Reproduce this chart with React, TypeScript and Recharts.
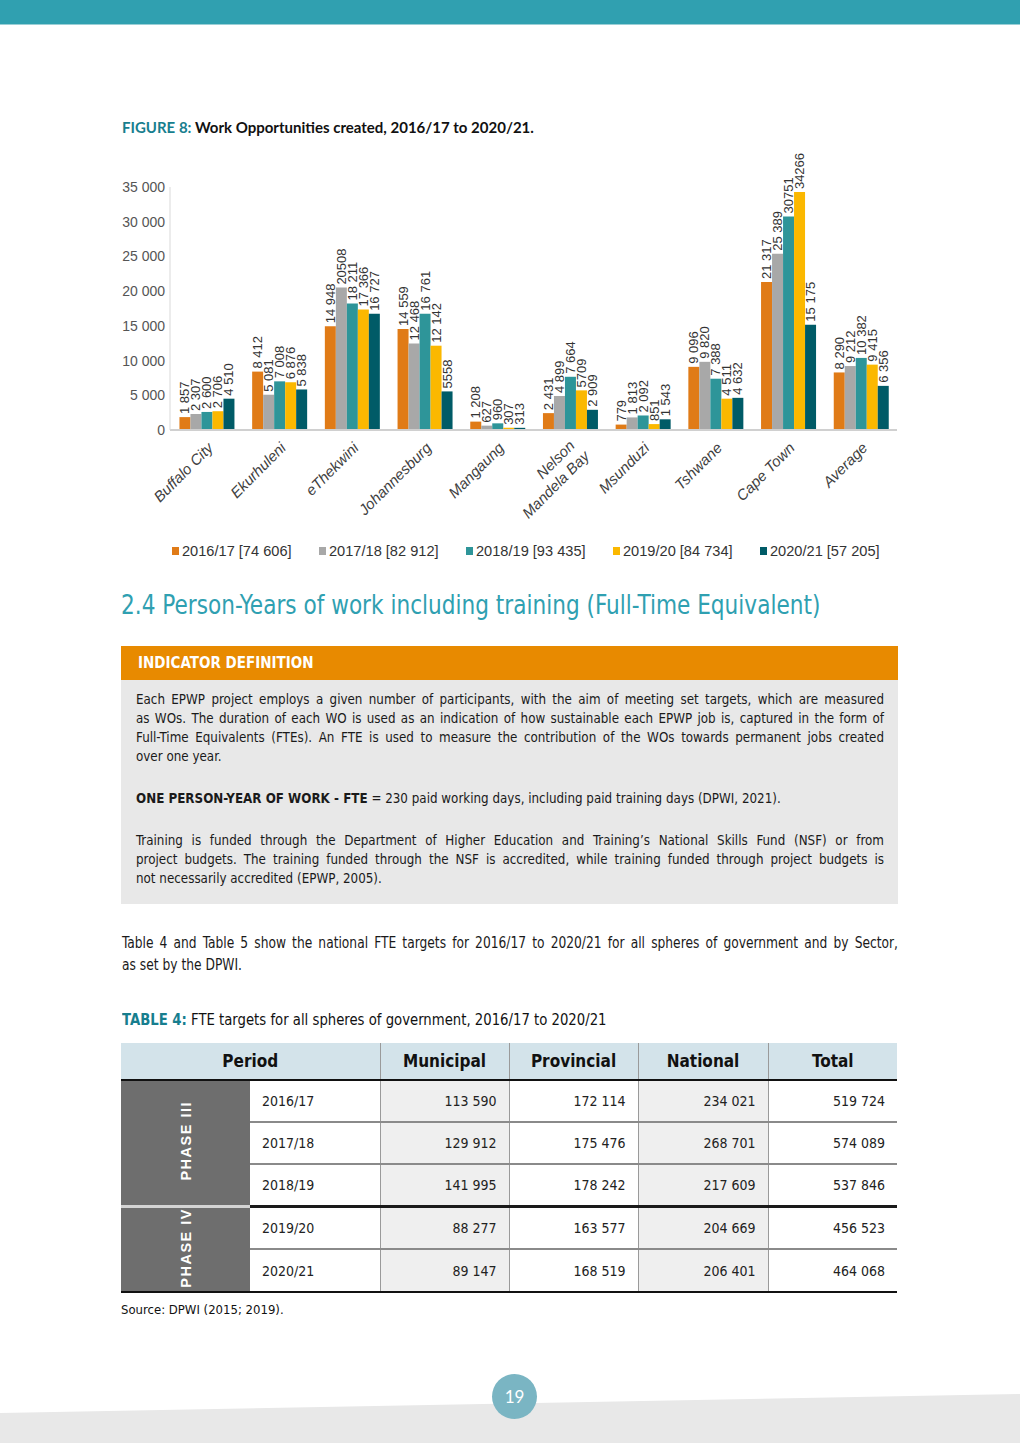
import React from "react";
import { BarChart, Bar, XAxis, YAxis, LabelList } from "recharts";

const cities = ["Buffalo City", "Ekurhuleni", "eThekwini", "Johannesburg", "Mangaung", "Nelson\nMandela Bay", "Msunduzi", "Tshwane", "Cape Town", "Average"];
const s2016 = [1857, 8412, 14948, 14559, 1208, 2431, 779, 9096, 21317, 8290];
const s2017 = [2307, 5081, 20508, 12468, 627, 4899, 1813, 9820, 25389, 9212];
const s2018 = [2600, 7008, 18211, 16761, 960, 7664, 2092, 7388, 30751, 10382];
const s2019 = [2706, 6876, 17366, 12142, 307, 5709, 851, 4511, 34266, 9415];
const s2020 = [4510, 5838, 16727, 5558, 313, 2909, 1543, 4632, 15175, 6356];
const seriesKeys = ["y2016", "y2017", "y2018", "y2019", "y2020"];
const seriesNames = ["2016/17 [74 606]", "2017/18 [82 912]", "2018/19 [93 435]", "2019/20 [84 734]", "2020/21 [57 205]"];
const seriesColors = ["#E07B17", "#A8A8A8", "#2E9599", "#FBB800", "#005B67"];
const unspacedLabels = [20508, 5558, 5709, 30751, 34266];
const yTicks = [0, 5000, 10000, 15000, 20000, 25000, 30000, 35000];

const periods = ["2016/17", "2017/18", "2018/19", "2019/20", "2020/21"];
const municipal = [113590, 129912, 141995, 88277, 89147];
const provincial = [172114, 175476, 178242, 163577, 168519];
const national = [234021, 268701, 217609, 204669, 206401];
const totals = [519724, 574089, 537846, 456523, 464068];

const data = cities.map((c, i) => ({
  city: c,
  y2016: s2016[i],
  y2017: s2017[i],
  y2018: s2018[i],
  y2019: s2019[i],
  y2020: s2020[i],
}));

const fmt = (v: number) => {
  if (unspacedLabels.includes(v)) return String(v);
  return String(v).replace(/\B(?=(\d{3})+(?!\d))/g, " ");
};

const NARROW = '"Liberation Sans Narrow", "DejaVu Sans Condensed", "Roboto Condensed", "Noto Sans", sans-serif';
const CHARTFONT = '"Liberation Sans", Arial, sans-serif';

const BarLabel = (props: any) => {
  const x = Number(props.x), y = Number(props.y), w = Number(props.width);
  const cx = x + w / 2;
  const ty = y - 3;
  return (
    <text x={cx} y={ty} transform={`rotate(-90, ${cx}, ${ty})`} textAnchor="start" dominantBaseline="central" fontSize={13} fill="#333" fontFamily={CHARTFONT}>
      {fmt(Number(props.value))}
    </text>
  );
};

const CityTick = (props: any) => {
  const { x, y, payload } = props;
  const lines = String(payload.value).split("\n");
  const multi = lines.length > 1;
  return (
    <g transform={`translate(${x + 5}, ${y + 8})`}>
      {lines.map((l, i) => (
        <text key={i} x={0} y={0} transform={`rotate(-45) translate(${multi && i === 1 ? 3 : 0}, ${multi ? 1 + i * 18 : 4})`} textAnchor="end" fontSize={15} fontStyle="italic" fill="#404040" fontFamily={CHARTFONT}>
          {l}
        </text>
      ))}
    </g>
  );
};

const Scaled = ({ width, scale, style, children }: { width: number; scale: number; style?: React.CSSProperties; children: React.ReactNode }) => (
  <div style={{ width: width / scale, transform: `scaleX(${scale})`, transformOrigin: "left top", ...style }}>{children}</div>
);

const Line = ({ children, last }: { children: React.ReactNode; last?: boolean }) => (
  <div style={{ textAlign: "justify", textAlignLast: last ? "left" : "justify", whiteSpace: "nowrap", height: 19, lineHeight: "19px" }}>{children}</div>
);

export default function App() {
  const numCell = (bg: string, extra: React.CSSProperties = {}): React.CSSProperties => ({
    background: bg,
    textAlign: "right",
    paddingRight: 12,
    fontSize: 14,
    color: "#222",
    borderLeft: "1px solid #9a9a9a",
    ...extra,
  });
  const rowBorder = (i: number) => (i === 2 ? "3px solid #1a1a1a" : i === 4 ? "2px solid #111" : "2px solid #8a8a8a");

  return (
    <div style={{ position: "absolute", left: 0, top: 0, width: 1020, height: 1443, overflow: "hidden", background: "#fff", fontFamily: NARROW }}>
      {/* top band */}
      <div style={{ position: "absolute", left: 0, top: 0, width: 1020, height: 24, background: "#30A0B0" }} />
      <div style={{ position: "absolute", left: 0, top: 24, width: 1020, height: 1, background: "#9ACFD6" }} />

      {/* figure title */}
      <div style={{ position: "absolute", left: 122, top: 118, fontFamily: "Lato, sans-serif", fontWeight: 700, fontSize: 15, color: "#111", whiteSpace: "nowrap" }}>
        <span style={{ color: "#177E8E" }}>FIGURE 8:</span> Work Opportunities created, 2016/17 to 2020/21.
      </div>

      {/* chart */}
      <div style={{ position: "absolute", left: 0, top: 0 }}>
        <BarChart width={1020} height={520} data={data} margin={{ top: 187, right: 123, bottom: 0, left: 100 }} barCategoryGap="13%" barGap={0}>
          <XAxis dataKey="city" interval={0} tickLine={false} axisLine={{ stroke: "#D0D0D0", strokeWidth: 2 }} height={90} tick={<CityTick />} />
          <YAxis domain={[0, 35000]} ticks={yTicks} width={70} tickLine={false} tickSize={3} tickMargin={2} axisLine={{ stroke: "#D9D9D9" }} tick={{ fontSize: 14, fill: "#555", fontFamily: CHARTFONT }} tickFormatter={(v: number) => String(v).replace(/\B(?=(\d{3})+(?!\d))/g, " ")} />
          {seriesKeys.map((k, i) => (
            <Bar key={k} dataKey={k} name={seriesNames[i]} fill={seriesColors[i]} isAnimationActive={false}>
              <LabelList dataKey={k} content={<BarLabel />} />
            </Bar>
          ))}
        </BarChart>
      </div>

      {/* legend */}
      {seriesNames.map((n, i) => (
        <div key={n} style={{ position: "absolute", left: 172 + i * 147, top: 542, height: 18, display: "flex", alignItems: "center", whiteSpace: "nowrap", fontFamily: CHARTFONT, fontSize: 14.6, color: "#333" }}>
          <span style={{ display: "inline-block", width: 7, height: 8, background: seriesColors[i], marginRight: 3 }} />
          {n}
        </div>
      ))}

      {/* section heading */}
      <div style={{ position: "absolute", left: 121, top: 590 }}>
        <Scaled width={700} scale={0.925} style={{ fontSize: 26, color: "#2FA0B1", whiteSpace: "nowrap" }}>
          2.4 Person-Years of work including training (Full-Time Equivalent)
        </Scaled>
      </div>

      {/* indicator box */}
      <div style={{ position: "absolute", left: 121, top: 646, width: 777, height: 34, background: "#E88A00" }}>
        <div style={{ position: "absolute", left: 17, top: 8, color: "#fff", fontWeight: 700, fontSize: 15 }}>INDICATOR DEFINITION</div>
      </div>
      <div style={{ position: "absolute", left: 121, top: 680, width: 777, height: 224, background: "#E8E8E8" }} />
      <div style={{ position: "absolute", left: 136, top: 690 }}>
        <Scaled width={748} scale={0.915} style={{ fontSize: 14.5, color: "#1a1a1a" }}>
          <Line>Each EPWP project employs a given number of participants, with the aim of meeting set targets, which are measured</Line>
          <Line>as WOs. The duration of each WO is used as an indication of how sustainable each EPWP job is, captured in the form of</Line>
          <Line>Full-Time Equivalents (FTEs). An FTE is used to measure the contribution of the WOs towards permanent jobs created</Line>
          <Line last>over one year.</Line>
          <div style={{ height: 23 }} />
          <Line last><b>ONE PERSON-YEAR OF WORK - FTE</b> = 230 paid working days, including paid training days (DPWI, 2021).</Line>
          <div style={{ height: 23 }} />
          <Line>Training is funded through the Department of Higher Education and Training’s National Skills Fund (NSF) or from</Line>
          <Line>project budgets. The training funded through the NSF is accredited, while training funded through project budgets is</Line>
          <Line last>not necessarily accredited (EPWP, 2005).</Line>
        </Scaled>
      </div>

      {/* paragraph */}
      <div style={{ position: "absolute", left: 122, top: 932 }}>
        <Scaled width={776} scale={0.88} style={{ fontSize: 15.5, color: "#1a1a1a", lineHeight: "22px" }}>
          <div style={{ textAlign: "justify", textAlignLast: "justify", whiteSpace: "nowrap" }}>Table 4 and Table 5 show the national FTE targets for 2016/17 to 2020/21 for all spheres of government and by Sector,</div>
          <div style={{ whiteSpace: "nowrap" }}>as set by the DPWI.</div>
        </Scaled>
      </div>

      {/* table title */}
      <div style={{ position: "absolute", left: 122, top: 1010 }}>
        <Scaled width={500} scale={0.92} style={{ fontSize: 16, color: "#111", whiteSpace: "nowrap" }}>
          <span style={{ color: "#177E8E", fontWeight: 700 }}>TABLE 4:</span> FTE targets for all spheres of government, 2016/17 to 2020/21
        </Scaled>
      </div>

      {/* table */}
      <table style={{ position: "absolute", left: 121, top: 1043, width: 776, borderCollapse: "collapse", tableLayout: "fixed", fontFamily: NARROW }}>
        <colgroup>
          <col style={{ width: 129 }} />
          <col style={{ width: 130 }} />
          <col style={{ width: 129 }} />
          <col style={{ width: 129 }} />
          <col style={{ width: 130 }} />
          <col style={{ width: 129 }} />
        </colgroup>
        <thead>
          <tr style={{ height: 37, background: "#D3E3EA" }}>
            <th colSpan={2} style={{ fontSize: 17, fontWeight: 700, color: "#111", borderBottom: "2px solid #111" }}>Period</th>
            {["Municipal", "Provincial", "National", "Total"].map((h) => (
              <th key={h} style={{ fontSize: 17, fontWeight: 700, color: "#111", borderBottom: "2px solid #111", borderLeft: "1px solid #9a9a9a" }}>{h}</th>
            ))}
          </tr>
        </thead>
        <tbody>
          {periods.map((p, i) => (
            <tr key={p} style={{ height: 42 }}>
              {(i === 0 || i === 3) && (
                <td rowSpan={i === 0 ? 3 : 2} style={{ background: "#6E6E6E", padding: 0, textAlign: "center", borderBottom: i === 0 ? "3px solid #d4d4d4" : "2px solid #111" }}>
                  <div style={{ display: "inline-block", writingMode: "vertical-rl", transform: "rotate(180deg)", color: "#fff", fontFamily: CHARTFONT, fontWeight: 700, fontSize: 14.5, letterSpacing: 1.5 }}>
                    {i === 0 ? "PHASE III" : "PHASE IV"}
                  </div>
                </td>
              )}
              <td style={{ paddingLeft: 12, fontSize: 14, color: "#222", borderBottom: rowBorder(i) }}>{p}</td>
              <td style={numCell("#EFEFEF", { borderBottom: rowBorder(i) })}>{fmt(municipal[i])}</td>
              <td style={numCell("#fff", { borderBottom: rowBorder(i) })}>{fmt(provincial[i])}</td>
              <td style={numCell("#EFEFEF", { borderBottom: rowBorder(i) })}>{fmt(national[i])}</td>
              <td style={numCell("#fff", { borderBottom: rowBorder(i) })}>{fmt(totals[i])}</td>
            </tr>
          ))}
        </tbody>
      </table>

      <div style={{ position: "absolute", left: 121, top: 1302, fontSize: 13, color: "#111" }}>Source: DPWI (2015; 2019).</div>

      {/* footer */}
      <svg style={{ position: "absolute", left: 0, top: 0 }} width={1020} height={1443}>
        <polygon points="0,1413 1020,1394 1020,1443 0,1443" fill="#E8E8E8" />
      </svg>
      <div style={{ position: "absolute", left: 492, top: 1374, width: 45, height: 45, borderRadius: "50%", background: "#7AB5C3", color: "#fff", display: "flex", alignItems: "center", justifyContent: "center", fontFamily: "Lato, sans-serif", fontSize: 17 }}>19</div>
    </div>
  );
}
